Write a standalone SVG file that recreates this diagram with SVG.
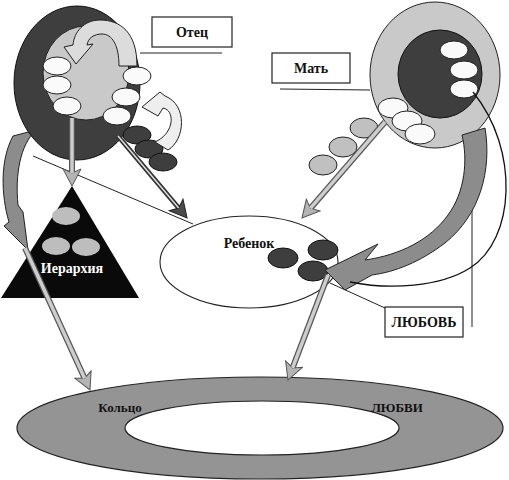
<svg xmlns="http://www.w3.org/2000/svg" width="509" height="480" viewBox="0 0 509 480">
<style>
 .lbl{font-family:"Liberation Serif","Times New Roman",serif;font-weight:bold;font-size:14px;fill:#111;text-anchor:middle}
 .box{fill:#fff;stroke:#222;stroke-width:1.2}
 .thin{fill:none;stroke:#222;stroke-width:1}
 .wht{fill:#fafafa;stroke:#222;stroke-width:1}
 .dk{fill:#3e3e3e;stroke:#111;stroke-width:1}
 .lg{fill:#c9c9c9;stroke:#222;stroke-width:1}
 .chain{fill:#c0c0c0;stroke:#222;stroke-width:1}
 .mg{fill:#8c8c8c;stroke:#222;stroke-width:1}
 .so{stroke:#555;stroke-width:6;fill:none}
 .si{stroke:#cdcdcd;stroke-width:3.5;fill:none}
 .sod{stroke:#333;stroke-width:5;fill:none}
 .sid{stroke:#ddd;stroke-width:1.5;fill:none}
</style>
<defs>
 <marker id="headL" markerUnits="userSpaceOnUse" viewBox="-1 -1 20 20" markerWidth="20" markerHeight="20" refX="4" refY="9" orient="auto">
  <path d="M0,0 L17,9 L0,18 L4,9 Z" fill="#b4b4b4" stroke="#555" stroke-width="1"/>
 </marker>
 <marker id="headD" markerUnits="userSpaceOnUse" viewBox="-1 -1 20 20" markerWidth="20" markerHeight="20" refX="4" refY="9" orient="auto">
  <path d="M0,0 L17,9 L0,18 L4,9 Z" fill="#4a4a4a" stroke="#222" stroke-width="1"/>
 </marker>
</defs>
<rect width="509" height="480" fill="#fff"/>

<g id="ring">
 <ellipse cx="260" cy="428" rx="243" ry="51" fill="#949494" stroke="#222" stroke-width="1.2"/>
 <ellipse cx="262" cy="428" rx="137" ry="27" fill="#fff" stroke="#222" stroke-width="1.2"/>
 <text class="lbl" x="120" y="412" style="font-size:13px">Кольцо</text>
 <text class="lbl" x="397" y="412" style="font-size:13px">ЛЮБВИ</text>
</g>

<g id="hierarchy">
 <polygon points="72,186 139,298 1,298" fill="#0a0a0a"/>
 <ellipse cx="66" cy="216" rx="14" ry="9" fill="#bdbdbd"/>
 <ellipse cx="56" cy="246" rx="14" ry="9" fill="#bdbdbd"/>
 <ellipse cx="86" cy="247" rx="14" ry="9" fill="#bdbdbd"/>
 <text class="lbl" x="72" y="273" style="fill:#fff;font-size:14px">Иерархия</text>
</g>

<g id="father">
 <path class="mg" d="M36,130 C20,145 15,175 18,205 L23,212 L28,250 L4,226 L9,222 C1,195 0,160 13,136 Z"/>
 <ellipse class="dk" cx="77" cy="83" rx="63" ry="77"/>
 <ellipse class="lg" cx="86" cy="73" rx="43" ry="47"/>
 <path d="M137,66 C137,32 120,20 100,20 C84,20 74,32 73,45 L64,47 L76,64 L93,44 L87,45 C88,38 94,34 102,34 C112,34 119,45 119,66 Z" fill="#dcdcdc" stroke="#222" stroke-width="1"/>
 <ellipse class="wht" cx="57" cy="66" rx="14" ry="9"/>
 <ellipse class="wht" cx="57" cy="85" rx="14" ry="9"/>
 <ellipse class="wht" cx="67" cy="106" rx="14" ry="9"/>
 <ellipse class="wht" cx="137" cy="76" rx="14" ry="9"/>
 <ellipse class="wht" cx="126" cy="97" rx="14" ry="9"/>
 <ellipse class="wht" cx="117" cy="116" rx="14" ry="9"/>
 <ellipse class="dk" cx="137" cy="135" rx="14" ry="9"/>
 <ellipse class="dk" cx="149" cy="149" rx="14" ry="9"/>
 <ellipse class="dk" cx="163" cy="162" rx="14" ry="9"/>
 <path d="M168,150 C185,140 188,105 165,96 L160,92 L142,107 L158,116 L163,108 C175,110 175,133 155,142 Z" fill="#eeeeee" stroke="#222" stroke-width="1"/>
</g>

<g id="mother">
 <ellipse class="lg" cx="435" cy="75" rx="65" ry="73"/>
 <ellipse class="dk" cx="440" cy="74" rx="42" ry="44"/>
 <ellipse class="wht" cx="454" cy="50" rx="14" ry="9"/>
 <ellipse class="wht" cx="464" cy="70" rx="14" ry="9"/>
 <ellipse class="wht" cx="464" cy="89" rx="14" ry="9"/>
 <ellipse class="wht" cx="393" cy="108" rx="15" ry="10"/>
 <ellipse class="wht" cx="407" cy="121" rx="15" ry="10"/>
 <ellipse class="wht" cx="420" cy="134" rx="15" ry="10"/>
 <ellipse class="chain" cx="364" cy="128" rx="14" ry="10"/>
 <ellipse class="chain" cx="343" cy="147" rx="14" ry="10"/>
 <ellipse class="chain" cx="323" cy="165" rx="14" ry="10"/>
</g>

<g id="child">
 <ellipse cx="249" cy="262" rx="89" ry="46" fill="#fff" stroke="#222" stroke-width="1.1"/>
 <text class="lbl" x="249" y="248">Ребенок</text>
 <ellipse class="dk" cx="283" cy="258" rx="15" ry="10"/>
 <ellipse class="dk" cx="323" cy="250" rx="15" ry="10"/>
 <ellipse class="dk" cx="313" cy="271" rx="15" ry="10"/>
</g>

<g id="label-father">
 <rect class="box" x="152" y="17" width="80" height="30"/>
 <text class="lbl" x="192" y="37">Отец</text>
</g>
<g id="label-mother">
 <rect class="box" x="272" y="53" width="78" height="30"/>
 <text class="lbl" x="311" y="73">Мать</text>
</g>
<g id="label-love">
 <rect class="box" x="385" y="307" width="78" height="30"/>
 <text class="lbl" x="424" y="327">ЛЮБОВЬ</text>
</g>

<g id="connectors">
 <line class="thin" x1="140" y1="53" x2="222" y2="53"/>
 <line class="thin" x1="280" y1="89" x2="370" y2="90"/>
 <line class="thin" x1="33" y1="156" x2="193" y2="224"/>
 <line class="thin" x1="330" y1="283" x2="385" y2="308"/>
 <line class="thin" x1="472" y1="155" x2="472" y2="327"/>
 <path class="mg" d="M485,128 C492,170 480,215 445,243 C420,262 395,272 372,275 L345,290 L325,270 L378,244 L365,260 C400,255 430,240 448,215 C465,192 468,160 462,135 Z"/>
 <path d="M473,92 C520,150 515,240 470,268 C440,287 390,290 350,282" fill="none" stroke="#111" stroke-width="1.3"/>

 <line class="so" x1="72" y1="118" x2="72" y2="173" marker-end="url(#headL)"/>
 <line class="si" x1="72" y1="118" x2="72" y2="173"/>

 <line class="sod" x1="118" y1="136" x2="178.7" y2="208" marker-end="url(#headD)"/>
 <line class="sid" x1="118" y1="136" x2="178.7" y2="208"/>

 <line class="so" x1="385" y1="122" x2="310.5" y2="208.2" marker-end="url(#headL)"/>
 <line class="si" x1="385" y1="122" x2="310.5" y2="208.2"/>

 <line class="so" x1="25" y1="248" x2="84.6" y2="378.2" marker-end="url(#headL)"/>
 <line class="si" x1="25" y1="248" x2="84.6" y2="378.2"/>

 <line class="so" x1="328" y1="275" x2="292.6" y2="367.9" marker-end="url(#headL)"/>
 <line class="si" x1="328" y1="275" x2="292.6" y2="367.9"/>
</g>
</svg>
